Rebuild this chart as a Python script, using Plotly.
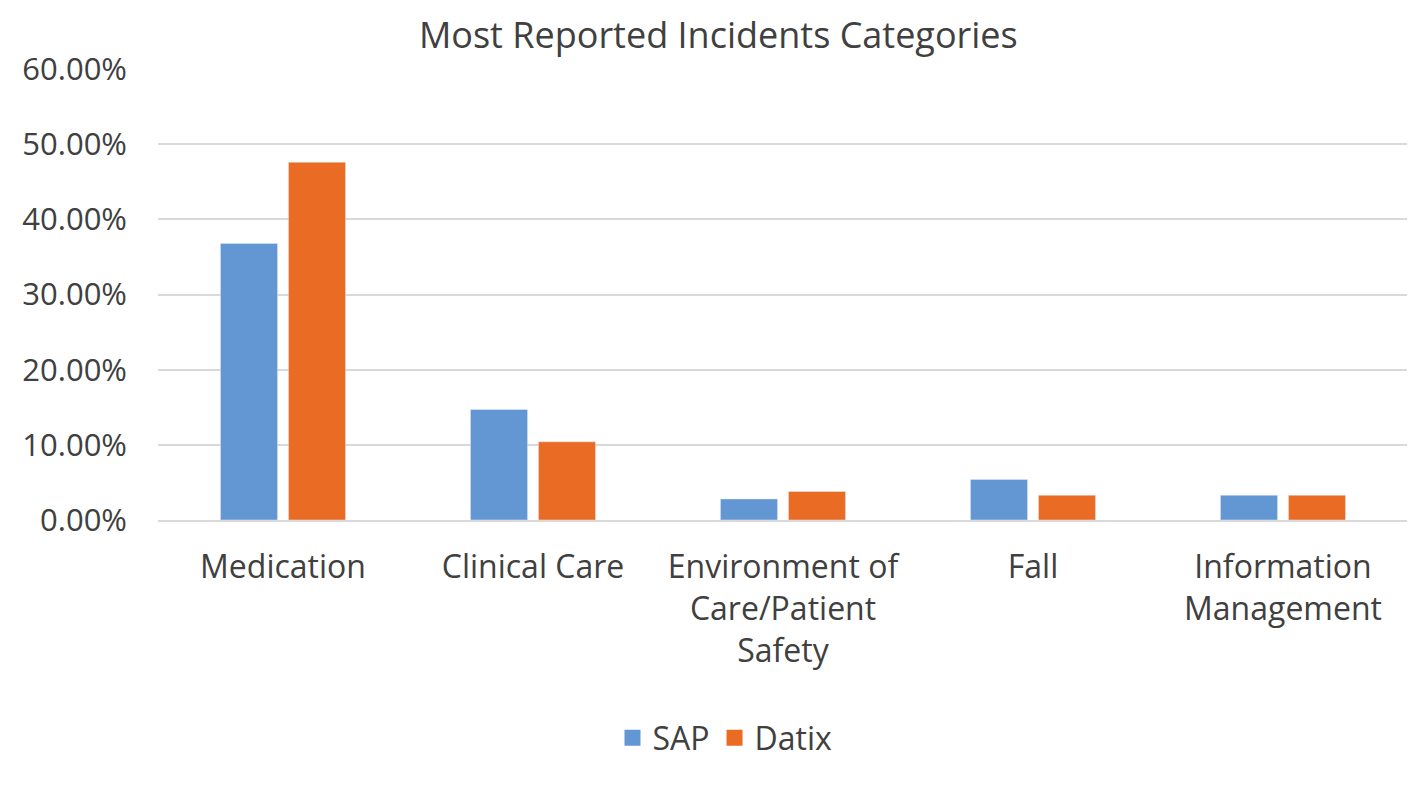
import plotly.graph_objects as go

categories = ["Medication", "Clinical Care", "Environment of<br>Care/Patient<br>Safety", "Fall", "Information<br>Management"]
series_names = ["SAP", "Datix"]
sap = [0.368, 0.147, 0.028, 0.054, 0.033]
datix = [0.476, 0.104, 0.038, 0.033, 0.033]
y_ticks = [0, 0.1, 0.2, 0.3, 0.4, 0.5, 0.6]
y_labels = ["0.00%", "10.00%", "20.00%", "30.00%", "40.00%", "50.00%", "60.00%"]

font_family = "Open Sans"
txt = "#404040"
colors = ["#6397D3", "#EA6B24"]

fig = go.Figure()
for name, vals, col in zip(series_names, [sap, datix], colors):
    fig.add_trace(go.Bar(name=name, x=categories, y=vals, marker_color=col,
                         legendgroup=name, showlegend=False))
# legend entries with larger square swatches
for name, col in zip(series_names, colors):
    fig.add_trace(go.Scatter(name=name, x=[None], y=[None], mode="markers",
                             marker=dict(symbol="square", size=19, color=col),
                             legendgroup=name, showlegend=True))

fig.update_layout(
    width=1415, height=796,
    paper_bgcolor="white", plot_bgcolor="white",
    margin=dict(l=150, r=15, t=61, b=284),
    barmode="group", bargap=0.456, bargroupgap=0.16,
    font=dict(family=font_family, color=txt, size=31),
    title=dict(text="Most Reported Incidents Categories", x=0.502, xanchor="center",
               y=0.966, yanchor="middle", font=dict(size=36, color=txt, family=font_family)),
    legend=dict(orientation="h", x=0.4536, xanchor="center", y=-0.483, yanchor="middle",
                font=dict(size=32, color=txt), itemwidth=30, traceorder="normal"),
    yaxis=dict(range=[0, 0.6], tickvals=y_ticks, ticktext=y_labels, showgrid=True,
               gridcolor="#D9D9D9", gridwidth=2, zeroline=False, showline=False,
               ticks="", ticklabelstandoff=30, tickfont=dict(size=31, color=txt)),
    xaxis=dict(showline=True, linecolor="#D9D9D9", linewidth=2, ticks="",
               tickfont=dict(size=32, color=txt), ticklabelstandoff=18),
)

fig.write_html("out.html")
